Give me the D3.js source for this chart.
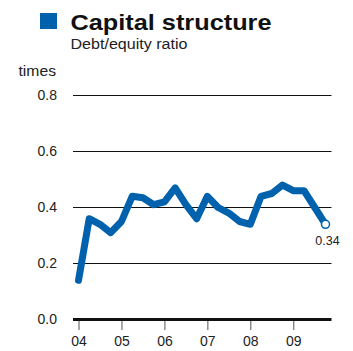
<html>
<head>
<script src="https://d3js.org/d3.v7.min.js"></script>
<style>
  body { margin: 0; background: #fff; }
  text { font-family: "Liberation Sans", Arial, sans-serif; fill: #222; }
</style>
</head>
<body>
<svg width="353" height="351"></svg>
<script>
// quarterly debt/equity ratio, 2004 Q1 .. 2009 Q4
var quarters = d3.range(24);
var ratio = [0.14, 0.36, 0.34, 0.31,
             0.35, 0.44, 0.435, 0.41,
             0.42, 0.47, 0.41, 0.36,
             0.44, 0.40, 0.38, 0.35,
             0.34, 0.44, 0.45, 0.48,
             0.46, 0.46, 0.40, 0.34];
var yearLabels = ["04", "05", "06", "07", "08", "09"];
var yTicks = [0, 0.2, 0.4, 0.6, 0.8];

var blue = "#0062ad";
var svg = d3.select("svg");

var x = d3.scaleLinear().domain([0, 23]).range([78.5, 325.5]);
var y = d3.scaleLinear().domain([0, 0.8]).range([319.5, 95.5]);

// title block
svg.append("rect").attr("x", 40).attr("y", 13).attr("width", 17).attr("height", 16).attr("fill", blue);
svg.append("text").attr("x", 70.5).attr("y", 29.5)
    .attr("textLength", 201).attr("lengthAdjust", "spacingAndGlyphs")
    .style("font-size", "22.5px").style("font-weight", "bold").style("fill", "#111")
    .text("Capital structure");
svg.append("text").attr("x", 70.5).attr("y", 48.5)
    .attr("textLength", 117).attr("lengthAdjust", "spacingAndGlyphs")
    .style("font-size", "14px")
    .text("Debt/equity ratio");
svg.append("text").attr("x", 18.5).attr("y", 75.5)
    .attr("textLength", 37.5).attr("lengthAdjust", "spacingAndGlyphs")
    .style("font-size", "14px")
    .text("times");

// gridlines
svg.append("g").selectAll("line")
    .data(yTicks.filter(function(d) { return d > 0; }))
    .enter().append("line")
    .attr("x1", 73).attr("x2", 331.5)
    .attr("y1", function(d) { return y(d); })
    .attr("y2", function(d) { return y(d); })
    .attr("stroke", "#111").attr("stroke-width", 1);

// y labels
svg.append("g").selectAll("text")
    .data(yTicks)
    .enter().append("text")
    .attr("x", 57).attr("y", function(d) { return y(d); })
    .attr("dy", "0.35em").attr("text-anchor", "end")
    .style("font-size", "14px")
    .text(function(d) { return d3.format(".1f")(d); });

// x axis
var xa = svg.append("g")
    .attr("transform", "translate(0," + (y(0) + 1.5) + ")")
    .call(d3.axisBottom(x)
        .tickValues(d3.range(0, 24, 4))
        .tickSize(9)
        .tickFormat(function(d, i) { return yearLabels[i]; }));
xa.select(".domain").remove();
xa.selectAll(".tick line").attr("stroke", "#555");
xa.selectAll(".tick text").attr("dy", "0").attr("y", 25)
    .style("font-size", "14px").style("font-family", "Liberation Sans, Arial, sans-serif").attr("fill", "#222");

svg.append("line")
    .attr("x1", 73).attr("x2", 331.5)
    .attr("y1", y(0)).attr("y2", y(0))
    .attr("stroke", "#111").attr("stroke-width", 3);

// series
var line = d3.line()
    .x(function(d) { return x(d); })
    .y(function(d) { return y(ratio[d]); });

svg.append("path")
    .datum(quarters)
    .attr("d", line)
    .attr("fill", "none")
    .attr("stroke", blue)
    .attr("stroke-width", 7)
    .attr("stroke-linejoin", "round")
    .attr("stroke-linecap", "round");

var last = quarters[quarters.length - 1];
svg.append("circle")
    .attr("cx", x(last)).attr("cy", y(ratio[last]))
    .attr("r", 4).attr("fill", "#fff")
    .attr("stroke", blue).attr("stroke-width", 1.5);

svg.append("text")
    .attr("x", x(last) + 2).attr("y", y(ratio[last]) + 21)
    .attr("text-anchor", "middle")
    .style("font-size", "12.5px")
    .text(ratio[last].toFixed(2));
</script>
</body>
</html>
